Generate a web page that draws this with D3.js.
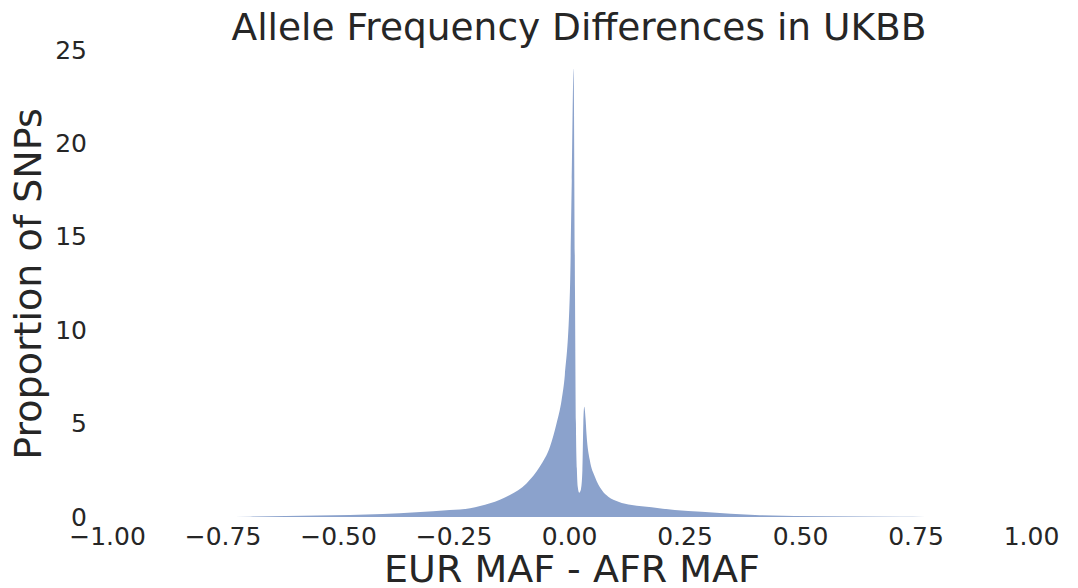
<!DOCTYPE html>
<html>
<head>
<meta charset="utf-8">
<script src="https://cdn.jsdelivr.net/npm/d3@7"></script>
<style>
  body { margin: 0; background: #fff; }
  text { font-family: "DejaVu Sans", sans-serif; fill: #262626; }
</style>
</head>
<body>
<svg id="chart" width="1078" height="588"></svg>
<script>
// difference in MAF (EUR - AFR)
var diffs = [-0.755, -0.690, -0.545, -0.403, -0.258, -0.214, -0.171, -0.128, -0.092, -0.063,
    -0.041, -0.027, -0.016, -0.009, 0.002, 0.006, 0.010, 0.013, 0.015, 0.017,
    0.019, 0.022, 0.026, 0.029, 0.031, 0.033, 0.036, 0.038, 0.045, 0.056,
    0.071, 0.085, 0.107, 0.136, 0.179, 0.229, 0.287, 0.413, 0.558, 0.716, 0.771]
// proportion of SNPs at each difference
var props = [0, 0.02, 0.08, 0.16, 0.37, 0.47, 0.73, 1.18, 1.8, 2.7,
    3.77, 5.0, 6.27, 7.6, 12.1, 18.0, 24.0, 12.0, 5.0, 2.6,
    1.6, 1.3, 1.5, 2.5, 5.0, 5.9, 5.2, 4.4, 3.05, 2.16,
    1.45, 1.09, 0.82, 0.64, 0.52, 0.37, 0.28, 0.1, 0.04, 0.01, 0]
var xTicks = [-1, -0.75, -0.5, -0.25, 0, 0.25, 0.5, 0.75, 1]
var yTicks = [0, 5, 10, 15, 20, 25]

var svg = d3.select("#chart")

var x = d3.scaleLinear().domain([-1, 1]).range([107, 1031])
var y = d3.scaleLinear().domain([0, 25]).range([517, 50])

var points = diffs.map((d, i) => [d, props[i]])

var area = d3.area()
    .x(d => x(d[0]))
    .y0(y(0))
    .y1(d => y(d[1]))
    .curve(d3.curveMonotoneX)

svg.append("path")
    .datum(points)
    .attr("d", area)
    .attr("fill", "#8ba2cc")

var xAxis = svg.append("g")
    .attr("transform", "translate(0," + y(0) + ")")
    .call(d3.axisBottom(x).tickValues(xTicks).tickFormat(d3.format(".2f")).tickSize(0).tickPadding(10))
xAxis.select(".domain").remove()
xAxis.selectAll("text").attr("font-size", 25).style("font-family", "DejaVu Sans").attr("fill", "#262626")

var yAxis = svg.append("g")
    .attr("transform", "translate(96,0)")
    .call(d3.axisLeft(y).tickValues(yTicks).tickSize(0).tickPadding(9))
yAxis.select(".domain").remove()
yAxis.selectAll("text").attr("font-size", 25).style("font-family", "DejaVu Sans").attr("fill", "#262626")

svg.append("text")
    .attr("x", 579)
    .attr("y", 40)
    .attr("text-anchor", "middle")
    .attr("font-size", 37.5)
    .text("Allele Frequency Differences in UKBB")

svg.append("text")
    .attr("x", 572)
    .attr("y", 582)
    .attr("text-anchor", "middle")
    .attr("font-size", 38)
    .text("EUR MAF - AFR MAF")

svg.append("text")
    .attr("transform", "translate(41,284) rotate(-90)")
    .attr("text-anchor", "middle")
    .attr("font-size", 38)
    .text("Proportion of SNPs")
</script>
</body>
</html>
